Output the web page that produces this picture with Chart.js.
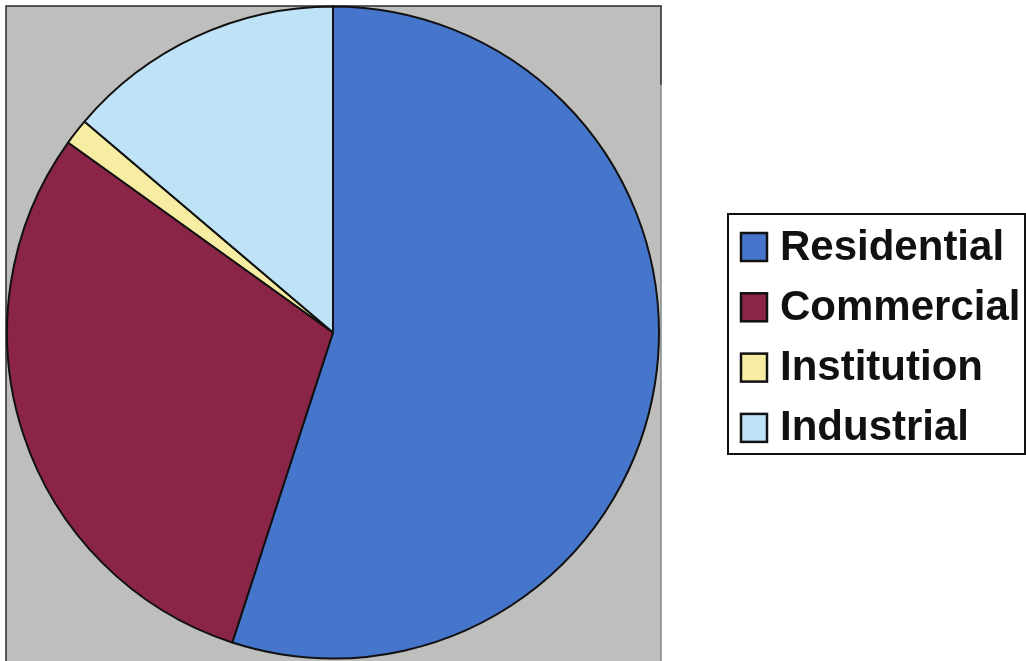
<!DOCTYPE html>
<html>
<head>
<meta charset="utf-8">
<title>Sector share</title>
<script src="https://cdn.jsdelivr.net/npm/chart.js@4/dist/chart.umd.min.js"></script>
<style>
  html, body { margin: 0; padding: 0; background: #fff; }
  #wrap { width: 1026px; height: 661px; position: relative; }
</style>
</head>
<body>
<div id="wrap"><canvas id="pie"></canvas></div>
<script>
// sectors and their share (%)
const sectors = ['Residential', 'Commercial', 'Institution', 'Industrial'];
const shares = [55.0, 29.9, 1.3, 13.8];
const sliceColors = ['#4676cc', '#8b2548', '#f6eca2', '#bee2f6'];

// grey plot backdrop behind the pie
const plotBackdrop = {
  id: 'plotBackdrop',
  beforeDraw(chart) {
    const ctx = chart.ctx;
    ctx.save();
    ctx.fillStyle = '#bebfbd';
    ctx.fillRect(6, 6, 655, 660);
    ctx.strokeStyle = '#2a2a2a';
    ctx.lineWidth = 1.5;
    ctx.beginPath();
    ctx.moveTo(6, 670);
    ctx.lineTo(6, 6);
    ctx.lineTo(661, 6);
    ctx.lineTo(661, 85);
    ctx.stroke();
    ctx.strokeStyle = '#8a8a8a';
    ctx.beginPath();
    ctx.moveTo(661, 85);
    ctx.lineTo(661, 670);
    ctx.stroke();
    ctx.restore();
  }
};

// boxed legend on the right
const boxLegend = {
  id: 'boxLegend',
  afterDraw(chart) {
    const ctx = chart.ctx;
    const x = 728, y = 214, w = 297, h = 240;
    ctx.save();
    ctx.fillStyle = '#fff';
    ctx.fillRect(x, y, w, h);
    ctx.strokeStyle = '#111';
    ctx.lineWidth = 2;
    ctx.strokeRect(x, y, w, h);

    ctx.font = 'bold 42px "Liberation Sans", Arial, sans-serif';
    ctx.textBaseline = 'middle';
    chart.data.labels.forEach((label, i) => {
      const cy = 247 + i * 60.3;
      ctx.fillStyle = sliceColors[i];
      ctx.fillRect(741, cy - 14, 26, 28);
      ctx.strokeStyle = '#111';
      ctx.lineWidth = 2.5;
      ctx.strokeRect(741, cy - 14, 26, 28);
      ctx.fillStyle = '#111';
      ctx.fillText(label, 780, cy + 1);
    });
    ctx.restore();
  }
};

new Chart(document.getElementById('pie'), {
  type: 'pie',
  data: {
    labels: sectors,
    datasets: [{
      data: shares,
      backgroundColor: sliceColors,
      borderColor: '#111',
      borderWidth: 2
    }]
  },
  options: {
    responsive: true,
    maintainAspectRatio: false,
    animation: false,
    layout: { padding: { left: 6, top: 5, right: 366, bottom: 1 } },
    plugins: {
      legend: { display: false },
      tooltip: { enabled: false }
    }
  },
  plugins: [plotBackdrop, boxLegend]
});
</script>
</body>
</html>
